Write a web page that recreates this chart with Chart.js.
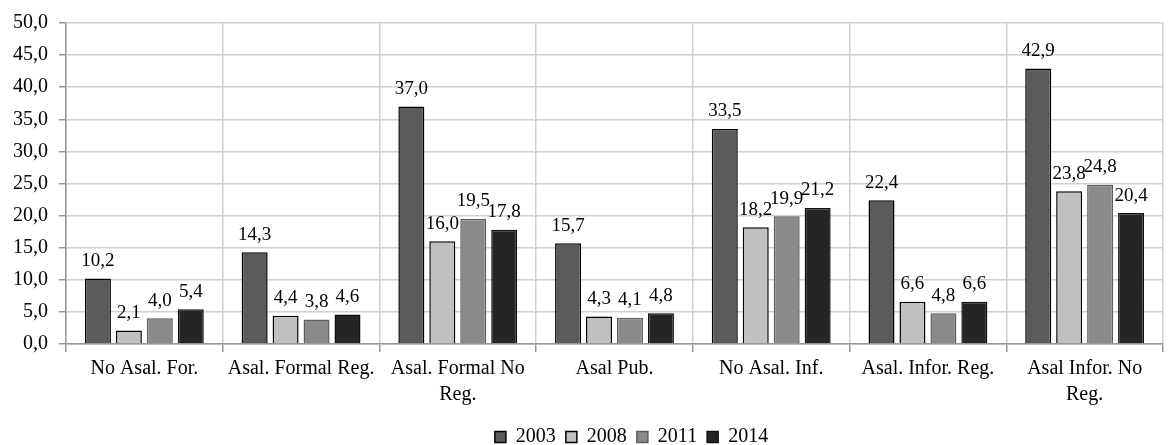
<!DOCTYPE html>
<html>
<head>
<meta charset="utf-8">
<script src="https://cdn.jsdelivr.net/npm/chart.js@4.4.1/dist/chart.umd.min.js"></script>
<style>
html,body{margin:0;padding:0;background:#fff;}
#wrap{width:1171px;height:445px;position:relative;}
</style>
</head>
<body>
<div id="wrap"><canvas id="c"></canvas></div>
<script>
const categories = [
  "No Asal. For.",
  "Asal. Formal Reg.",
  ["Asal. Formal No", "Reg."],
  "Asal Pub.",
  "No Asal. Inf.",
  "Asal. Infor. Reg.",
  ["Asal Infor. No", "Reg."]
];
const seriesNames = ["2003", "2008", "2011", "2014"];
const values2003 = [10.2, 14.3, 37.0, 15.7, 33.5, 22.4, 42.9];
const values2008 = [2.1, 4.4, 16.0, 4.3, 18.2, 6.6, 23.8];
const values2011 = [4.0, 3.8, 19.5, 4.1, 19.9, 4.8, 24.8];
const values2014 = [5.4, 4.6, 17.8, 4.8, 21.2, 6.6, 20.4];

const fillColors = ["#5b5b5b", "#c0c0c0", "#8a8a8a", "#252525"];
const borderColors = ["#000000", "#000000", "#5e5e5e", "#111111"];
const FONT = "'Liberation Serif', 'Times New Roman', serif";
const fmt = v => v.toFixed(1).replace('.', ',');

const allValues = [values2003, values2008, values2011, values2014];

const dataLabels = {
  id: 'dataLabels',
  afterDatasetsDraw(chart) {
    const ctx = chart.ctx;
    ctx.save();
    ctx.font = "19px " + FONT;
    ctx.fillStyle = "#000";
    ctx.textAlign = "center";
    ctx.textBaseline = "bottom";
    chart.data.datasets.forEach((ds, i) => {
      const meta = chart.getDatasetMeta(i);
      meta.data.forEach((el, j) => {
        ctx.fillText(fmt(ds.data[j]), el.x, el.y - 8);
      });
    });
    ctx.restore();
  }
};

const shiftLegend = {
  id: 'shiftLegend',
  afterLayout(chart) {
    if (chart.legend) {
      chart.legend.left += 49;
      chart.legend.right += 49;
      chart.legend.top += 5;
      chart.legend.bottom += 5;
    }
  }
};

new Chart(document.getElementById('c'), {
  type: 'bar',
  data: {
    labels: categories,
    datasets: seriesNames.map((n, i) => ({
      label: n,
      data: allValues[i],
      backgroundColor: fillColors[i],
      borderColor: borderColors[i],
      borderWidth: 1.5,
      categoryPercentage: 0.79,
      barPercentage: 0.84
    }))
  },
  options: {
    responsive: true,
    maintainAspectRatio: false,
    animation: false,
    layout: { padding: { left: 2, right: 8, top: 14, bottom: -7 } },
    plugins: {
      tooltip: { enabled: false },
      legend: {
        position: 'bottom',
        labels: {
          font: { family: FONT, size: 20 },
          color: "#000",
          boxWidth: 11,
          boxHeight: 11,
          padding: 10
        }
      }
    },
    scales: {
      x: {
        grid: { color: "#cfcfcf", lineWidth: 1.5, offset: true, tickLength: 8, drawTicks: true, tickColor: "#999" },
        border: { color: "#9a9a9a", width: 1.5 },
        ticks: { font: { family: FONT, size: 20, lineHeight: 1.3 }, color: "#000", maxRotation: 0, autoSkip: false, padding: 4 }
      },
      y: {
        min: 0, max: 50,
        grid: { color: "#cfcfcf", lineWidth: 1.5, tickLength: 7, tickColor: "#999" },
        border: { color: "#9a9a9a", width: 1.5 },
        ticks: { stepSize: 5, font: { family: FONT, size: 20 }, color: "#000", padding: 11, callback: v => fmt(v) }
      }
    }
  },
  plugins: [dataLabels, shiftLegend]
});
</script>
</body>
</html>
